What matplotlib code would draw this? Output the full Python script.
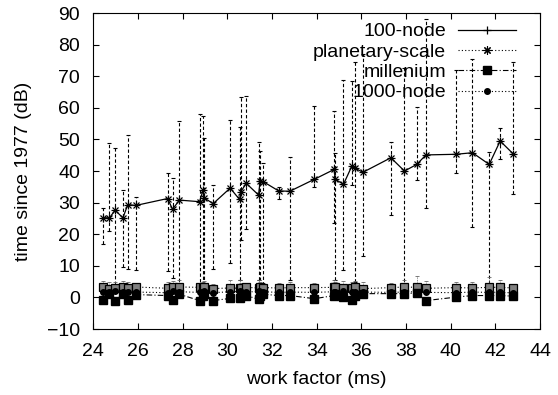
#!/usr/bin/env python
# grafico estilo gnuplot: work factor x time since 1977
import matplotlib
matplotlib.use('Agg')
import matplotlib.pyplot as plt

plt.rcParams['font.family'] = ['Liberation Sans', 'DejaVu Sans']

# dados
work_factor = [24.43, 24.73, 24.98, 25.33, 25.55, 25.90, 27.33, 27.55, 27.86, 28.76,
               28.92, 28.96, 29.37, 30.13, 30.55, 30.60, 30.85, 31.40, 31.47, 31.62,
               32.30, 32.80, 33.90, 34.78, 34.83, 35.20, 35.57, 35.72, 36.07, 37.32,
               37.93, 38.48, 38.89, 40.24, 40.97, 41.72, 42.21, 42.80]

node100 = [25.2, 25.2, 27.6, 25.2, 29.4, 29.1, 31.3, 27.9, 30.8, 30.3,
           34.0, 31.5, 29.7, 34.6, 31.0, 33.4, 36.1, 32.4, 36.9, 36.6,
           33.7, 33.6, 37.4, 40.5, 37.4, 35.8, 41.5, 40.9, 39.6, 44.2,
           40.0, 42.1, 45.1, 45.3, 45.8, 42.1, 49.5, 45.4]
node100_low = [17.0, 21.0, 2.5, 9.6, 9.0, 8.6, 8.3, 6.0, 3.3, 1.5,
               4.0, 4.0, 9.1, 10.9, 5.4, 18.3, 21.5, 5.4, 3.6, 3.8,
               31.0, 5.6, 35.0, 23.4, 5.6, 8.8, 35.6, 4.9, 13.0, 26.0,
               3.3, 37.1, 28.2, 39.3, 22.3, 4.3, 43.7, 32.7]
node100_high = [28.2, 49.0, 47.2, 34.0, 51.4, 31.8, 39.5, 37.7, 55.9, 58.0,
                57.5, 50.5, 35.5, 56.0, 53.9, 63.4, 63.9, 49.3, 46.3, 42.6,
                35.0, 44.3, 60.6, 59.0, 45.6, 68.9, 68.4, 74.4, 77.0, 49.3,
                72.6, 60.2, 88.0, 72.0, 75.4, 46.1, 53.5, 74.4]

planetary = [3.3, 2.8, 3.0, 3.3, 2.9, 3.3, 2.9, 3.2, 3.3, 3.2,
             3.0, 3.3, 2.8, 3.0, 2.9, 3.1, 3.2, 3.0, 3.2, 3.1,
             3.0, 3.1, 3.1, 3.2, 3.3, 3.1, 3.0, 3.2, 2.8, 3.1,
             3.3, 3.2, 2.9, 3.1, 3.0, 3.2, 3.2, 3.0]
planetary_high = [5.2, 5.0, 4.8, 5.2, 5.0, 4.6, 4.8, 5.2, 5.4, 4.6,
                  4.8, 5.2, 4.4, 5.4, 5.4, 4.6, 4.4, 5.4, 4.8, 4.6,
                  4.6, 4.8, 4.6, 5.6, 5.0, 5.2, 5.0, 5.2, 5.0, 4.6,
                  5.4, 6.8, 5.2, 4.8, 4.8, 6.4, 5.4, 4.4]

node1000 = [1.8, 1.6, 1.9, 1.8, 1.6, 1.7, 1.5, 1.9, 1.8, 1.6,
            1.7, 2.0, 1.5, 1.8, 1.9, 1.6, 1.7, 1.9, 1.6, 1.8,
            1.6, 1.7, 1.6, 1.8, 1.7, 1.9, 1.6, 1.8, 1.7, 1.6,
            1.7, 1.8, 1.6, 1.5, 1.7, 1.6, 1.7, 1.4]

millenium = [-0.7, 1.2, -1.0, 1.0, -0.7, 0.9, 0.6, -0.7, 1.0, -1.0,
             0.5, 1.2, -1.0, -0.3, -0.3, 1.0, 0.6, -0.6, 0.5, 1.0,
             0.6, 0.6, -0.4, 0.6, 1.2, 0.0, -0.7, 0.3, 1.2, 1.2,
             1.2, 1.4, -1.0, 0.1, 0.6, 0.6, 0.6, 0.4]

xticks = list(range(24, 45, 2))
yticks = list(range(-10, 91, 10))


def main():
    fig = plt.figure(figsize=(5.58, 3.95), dpi=100)
    ax = fig.add_axes([0.167, 0.167, 0.801, 0.800])

    # barras de erro tracejadas da serie principal
    err = [[y - lo for y, lo in zip(node100, node100_low)],
           [hi - y for y, hi in zip(node100, node100_high)]]
    eb = ax.errorbar(work_factor, node100, yerr=err, fmt='none', ecolor='black',
                     elinewidth=0.8, capsize=1.5, capthick=0.8)
    eb[2][0].set_linestyle((0, (3, 2)))

    err_p = [[0.0] * len(planetary),
             [hi - y for y, hi in zip(planetary, planetary_high)]]
    eb2 = ax.errorbar(work_factor, planetary, yerr=err_p, fmt='none', ecolor='0.4',
                      elinewidth=0.6, capsize=1.5, capthick=0.6)
    eb2[2][0].set_linestyle((0, (1, 1)))

    ax.plot(work_factor, node100, color='black', lw=0.9, marker='+', ms=6,
            mew=0.9, label='100-node')
    ax.plot(work_factor, node100, ls='none', color='black', marker='x', ms=4.5, mew=0.9)

    ax.plot(work_factor, planetary, color='black', lw=0.8, ls=(0, (1, 2)),
            marker=(8, 2, 0), ms=6, mew=0.8, label='planetary-scale')
    ax.plot(work_factor, planetary, ls='none', marker='s', ms=6, mfc='0.5',
            mec='black', mew=0.9)
    ax.plot(work_factor, millenium, color='black', lw=0.8, ls=(0, (5, 2, 1, 2)),
            marker='s', ms=6, label='millenium')
    ax.plot(work_factor, node1000, color='black', lw=0.8, ls=(0, (1, 2)),
            marker='o', ms=4, label='1000-node')

    ax.set_xlim(24, 44)
    ax.set_ylim(-10, 90)
    ax.set_xticks(xticks)
    ax.set_yticks(yticks)
    ax.tick_params(direction='in', top=True, right=True, length=4, labelsize=14)
    ax.tick_params(axis='x', pad=10)
    ax.tick_params(axis='y', pad=9.5)
    ax.set_xlabel('work factor (ms)', fontsize=14, labelpad=8)
    ax.set_ylabel('time since 1977 (dB)', fontsize=14, labelpad=11)

    ax.legend(loc='upper right', bbox_to_anchor=(0.977, 1.012), frameon=False,
              markerfirst=False, fontsize=14, handlelength=3.0, handletextpad=0.6,
              labelspacing=0.14, borderpad=0.2)

    fig.savefig('out.png', dpi=100)


if __name__ == '__main__':
    main()
